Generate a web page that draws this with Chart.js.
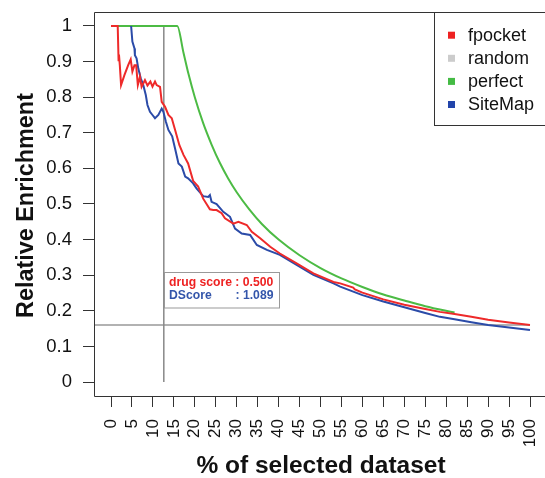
<!DOCTYPE html>
<html>
<head>
<meta charset="utf-8">
<script src="https://cdn.jsdelivr.net/npm/chart.js@4.4.1/dist/chart.umd.min.js"></script>
<style>
  html, body { margin: 0; padding: 0; background: #fff; }
  #wrap { position: relative; width: 545px; height: 478px; }
</style>
</head>
<body>
<div id="wrap"><canvas id="chart" width="545" height="478"></canvas></div>
<script>
// ---------- datos ----------
const xTickValues = [0, 5, 10, 15, 20, 25, 30, 35, 40, 45, 50, 55, 60, 65, 70, 75, 80, 85, 90, 95, 100];
const yTickLabels = ['0', '0.1', '0.2', '0.3', '0.4', '0.5', '0.6', '0.7', '0.8', '0.9', '1'];

const fpocketX = [0, 1.6, 1.8, 1.9, 2.1, 2.4, 3.2, 4.1, 4.7, 5.1, 5.6, 6.0, 6.4, 6.9, 7.3, 8.1, 8.7, 9.4, 9.9, 10.5, 10.9, 11.7,
    12.1, 12.9, 13.7, 14.5, 15.3, 16.3, 17.3, 18.4, 19.6, 20.8, 22.0, 23.6, 24.4, 25.2, 26.4, 27.2, 29.2, 30.4, 32.4,
    33.6, 35.6, 38.0, 40.3, 44.3, 48.3, 53.1, 54.7, 57.8, 58.2, 60, 65, 70, 75, 78.5, 82, 86, 90, 95, 100];
const fpocketY = [1, 1, 0.904, 0.92, 0.89, 0.834, 0.862, 0.89, 0.906, 0.872, 0.89, 0.89, 0.834, 0.857, 0.829, 0.848, 0.833,
    0.844, 0.83, 0.844, 0.834, 0.829, 0.787, 0.773, 0.75, 0.741, 0.708, 0.666, 0.638, 0.614, 0.565, 0.549, 0.515, 0.485,
    0.483, 0.483, 0.474, 0.46, 0.445, 0.45, 0.441, 0.422, 0.404, 0.38, 0.361, 0.333, 0.305, 0.281, 0.277, 0.265, 0.26,
    0.251, 0.232, 0.217, 0.205, 0.197, 0.191, 0.183, 0.175, 0.167, 0.16];

const siteMapX = [4.8, 5.1, 5.6, 5.7, 6.1, 6.5, 7.1, 7.7, 8.3, 8.7, 9.3, 9.9, 10.5, 11.3, 12.1, 12.5, 13.1, 13.7, 14.6,
    15.3, 16.1, 16.9, 17.7, 18.4, 19.6, 20.4, 22.0, 23.2, 23.6, 24.0, 25.2, 26.8, 28.4, 29.6, 31.2, 33.2, 34.8, 37.2,
    40.3, 44.3, 48.3, 53.1, 54.7, 60, 65, 70, 75, 78.5, 82, 86, 90, 95, 100];
const siteMapY = [1, 0.956, 0.937, 0.918, 0.909, 0.881, 0.853, 0.834, 0.806, 0.778, 0.759, 0.75, 0.741, 0.75, 0.768,
    0.759, 0.731, 0.708, 0.69, 0.655, 0.614, 0.605, 0.577, 0.572, 0.558, 0.544, 0.522, 0.52, 0.525, 0.506, 0.5, 0.478,
    0.464, 0.431, 0.417, 0.413, 0.385, 0.371, 0.357, 0.329, 0.301, 0.277, 0.268, 0.244, 0.226, 0.21, 0.194, 0.183,
    0.176, 0.168, 0.16, 0.153, 0.146];

const perfectX = [0, 15.8, 17.3, 18.5, 20, 22, 24, 26, 28, 30, 33, 36, 40, 45, 50, 55, 60, 65, 70, 75, 82];
const perfectY = [1, 1, 0.925, 0.865, 0.8, 0.727, 0.667, 0.615, 0.571, 0.533, 0.485, 0.444, 0.4, 0.356, 0.32, 0.291,
    0.267, 0.246, 0.229, 0.213, 0.195];

// cruz del drug score (corte vertical y horizontal)
const drugCutX = [12.6, 12.6];
const drugCutY = [0, 1];
const levelX = [-4.06, 100];
const levelY = [0.16, 0.16];

const SERIES = ['fpocket', 'random', 'perfect', 'SiteMap'];
const COLORES = ['#ee2222', '#cccccc', '#44bb44', '#2244aa'];
const LINEAS = { fpocket: '#ee2a2a', perfect: '#4cbb44', SiteMap: '#2b4ba8' };

const FUENTE = "'Liberation Sans', Arial, Helvetica, sans-serif";
Chart.defaults.font.family = FUENTE;
Chart.defaults.color = '#111';

function puntos(xs, ys) {
    return xs.map((x, i) => ({ x, y: ys[i] }));
}

// caja, títulos, leyenda y recuadro de valores
const decoracion = {
    id: 'decoracion',
    beforeDatasetsDraw(chart) {
        const { ctx, chartArea: a } = chart;
        ctx.save();
        ctx.fillStyle = '#fff';
        ctx.restore();
    },
    afterDraw(chart) {
        const { ctx, chartArea: a, scales } = chart;
        ctx.save();
        // caja del gráfico (el borde derecho queda fuera del lienzo)
        ctx.strokeStyle = '#333';
        ctx.lineWidth = 1;
        ctx.beginPath();
        ctx.moveTo(a.right + 5, a.top + 0.5);
        ctx.lineTo(a.left + 0.5, a.top + 0.5);
        ctx.lineTo(a.left + 0.5, a.bottom + 0.5);
        ctx.lineTo(a.right + 5, a.bottom + 0.5);
        ctx.stroke();

        // títulos de ejes
        ctx.fillStyle = '#111';
        ctx.font = `bold 24.5px ${FUENTE}`;
        ctx.textAlign = 'center';
        ctx.textBaseline = 'alphabetic';
        ctx.fillText('% of selected dataset', 321, 473);

        ctx.save();
        ctx.translate(33, 205.5);
        ctx.rotate(-Math.PI / 2);
        ctx.font = `bold 23.4px ${FUENTE}`;
        ctx.fillText('Relative Enrichment', 0, 0);
        ctx.restore();

        // leyenda
        ctx.fillStyle = '#fff';
        ctx.fillRect(434, 12, 120, 113);
        ctx.strokeStyle = '#333';
        ctx.strokeRect(434.5, 12.5, 120, 113);
        ctx.font = `18px ${FUENTE}`;
        ctx.textAlign = 'left';
        SERIES.forEach((s, i) => {
            const base = 40.7 + i * 23.1;
            ctx.fillStyle = COLORES[i];
            ctx.fillRect(448, base - 9, 7, 7);
            ctx.fillStyle = '#111';
            ctx.fillText(s, 468, base);
        });

        // recuadro drug score / DScore
        const bx = Math.round(scales.x.getPixelForValue(drugCutX[0])) + 0.5;
        const by = 272.5;
        ctx.fillStyle = '#fff';
        ctx.fillRect(bx, by, 115, 35.5);
        ctx.strokeStyle = '#999';
        ctx.strokeRect(bx, by, 115, 35.5);
        ctx.font = `bold 12.2px ${FUENTE}`;
        ctx.fillStyle = '#ee2222';
        ctx.fillText('drug score : 0.500', bx + 4.5, by + 13.5);
        ctx.fillStyle = '#3355aa';
        ctx.fillText('DScore', bx + 4.5, by + 26.5);
        ctx.fillText(': 1.089', bx + 71, by + 26.5);
        ctx.restore();
    }
};

const base = {
    type: 'line',
    pointRadius: 0,
    pointHoverRadius: 0,
    fill: false,
};

new Chart(document.getElementById('chart'), {
    type: 'line',
    data: {
        datasets: [
            { ...base, label: 'fpocket', data: puntos(fpocketX, fpocketY), borderColor: LINEAS.fpocket, borderWidth: 2, tension: 0, order: 0 },
            { ...base, label: 'SiteMap', data: puntos(siteMapX, siteMapY), borderColor: LINEAS.SiteMap, borderWidth: 2, tension: 0, order: 1 },
            { ...base, label: 'perfect', data: puntos(perfectX, perfectY), borderColor: LINEAS.perfect, borderWidth: 2, cubicInterpolationMode: 'monotone', order: 2 },
            { ...base, label: 'cutX', data: puntos(drugCutX, drugCutY), borderColor: '#888', borderWidth: 1.5, order: 3 },
            { ...base, label: 'cutY', data: puntos(levelX, levelY), borderColor: '#999', borderWidth: 1.5, order: 4 },
        ],
    },
    options: {
        responsive: false,
        animation: false,
        devicePixelRatio: 1,
        layout: { padding: { top: 12, left: 0, right: 0, bottom: 0 } },
        plugins: { legend: { display: false }, tooltip: { enabled: false } },
        scales: {
            x: {
                type: 'linear',
                min: -4.06,
                max: 103.58,
                afterBuildTicks: (s) => { s.ticks = xTickValues.map(v => ({ value: v })); },
                afterFit: (s) => { s.height = 82; s.paddingLeft = 0; s.paddingRight = 0; },
                border: { display: false },
                grid: { drawOnChartArea: false, drawTicks: true, tickLength: 11, color: '#333', lineWidth: 1 },
                ticks: {
                    autoSkip: false, minRotation: 90, maxRotation: 90, padding: 12,
                    font: { size: 17 }, color: '#111',
                    callback: (v) => String(v),
                },
            },
            y: {
                type: 'linear',
                min: -0.0393,
                max: 1.0393,
                afterBuildTicks: (s) => { s.ticks = yTickLabels.map(t => ({ value: Number(t) })); },
                afterFit: (s) => { s.width = 94; s.paddingTop = 0; s.paddingBottom = 0; },
                border: { display: false },
                grid: { drawOnChartArea: false, drawTicks: true, tickLength: 11, color: '#333', lineWidth: 1 },
                ticks: {
                    padding: 11, font: { size: 18.5 }, color: '#111',
                    callback: (v) => yTickLabels[Math.round(v * 10)],
                },
            },
        },
    },
    plugins: [decoracion],
});
</script>
</body>
</html>
